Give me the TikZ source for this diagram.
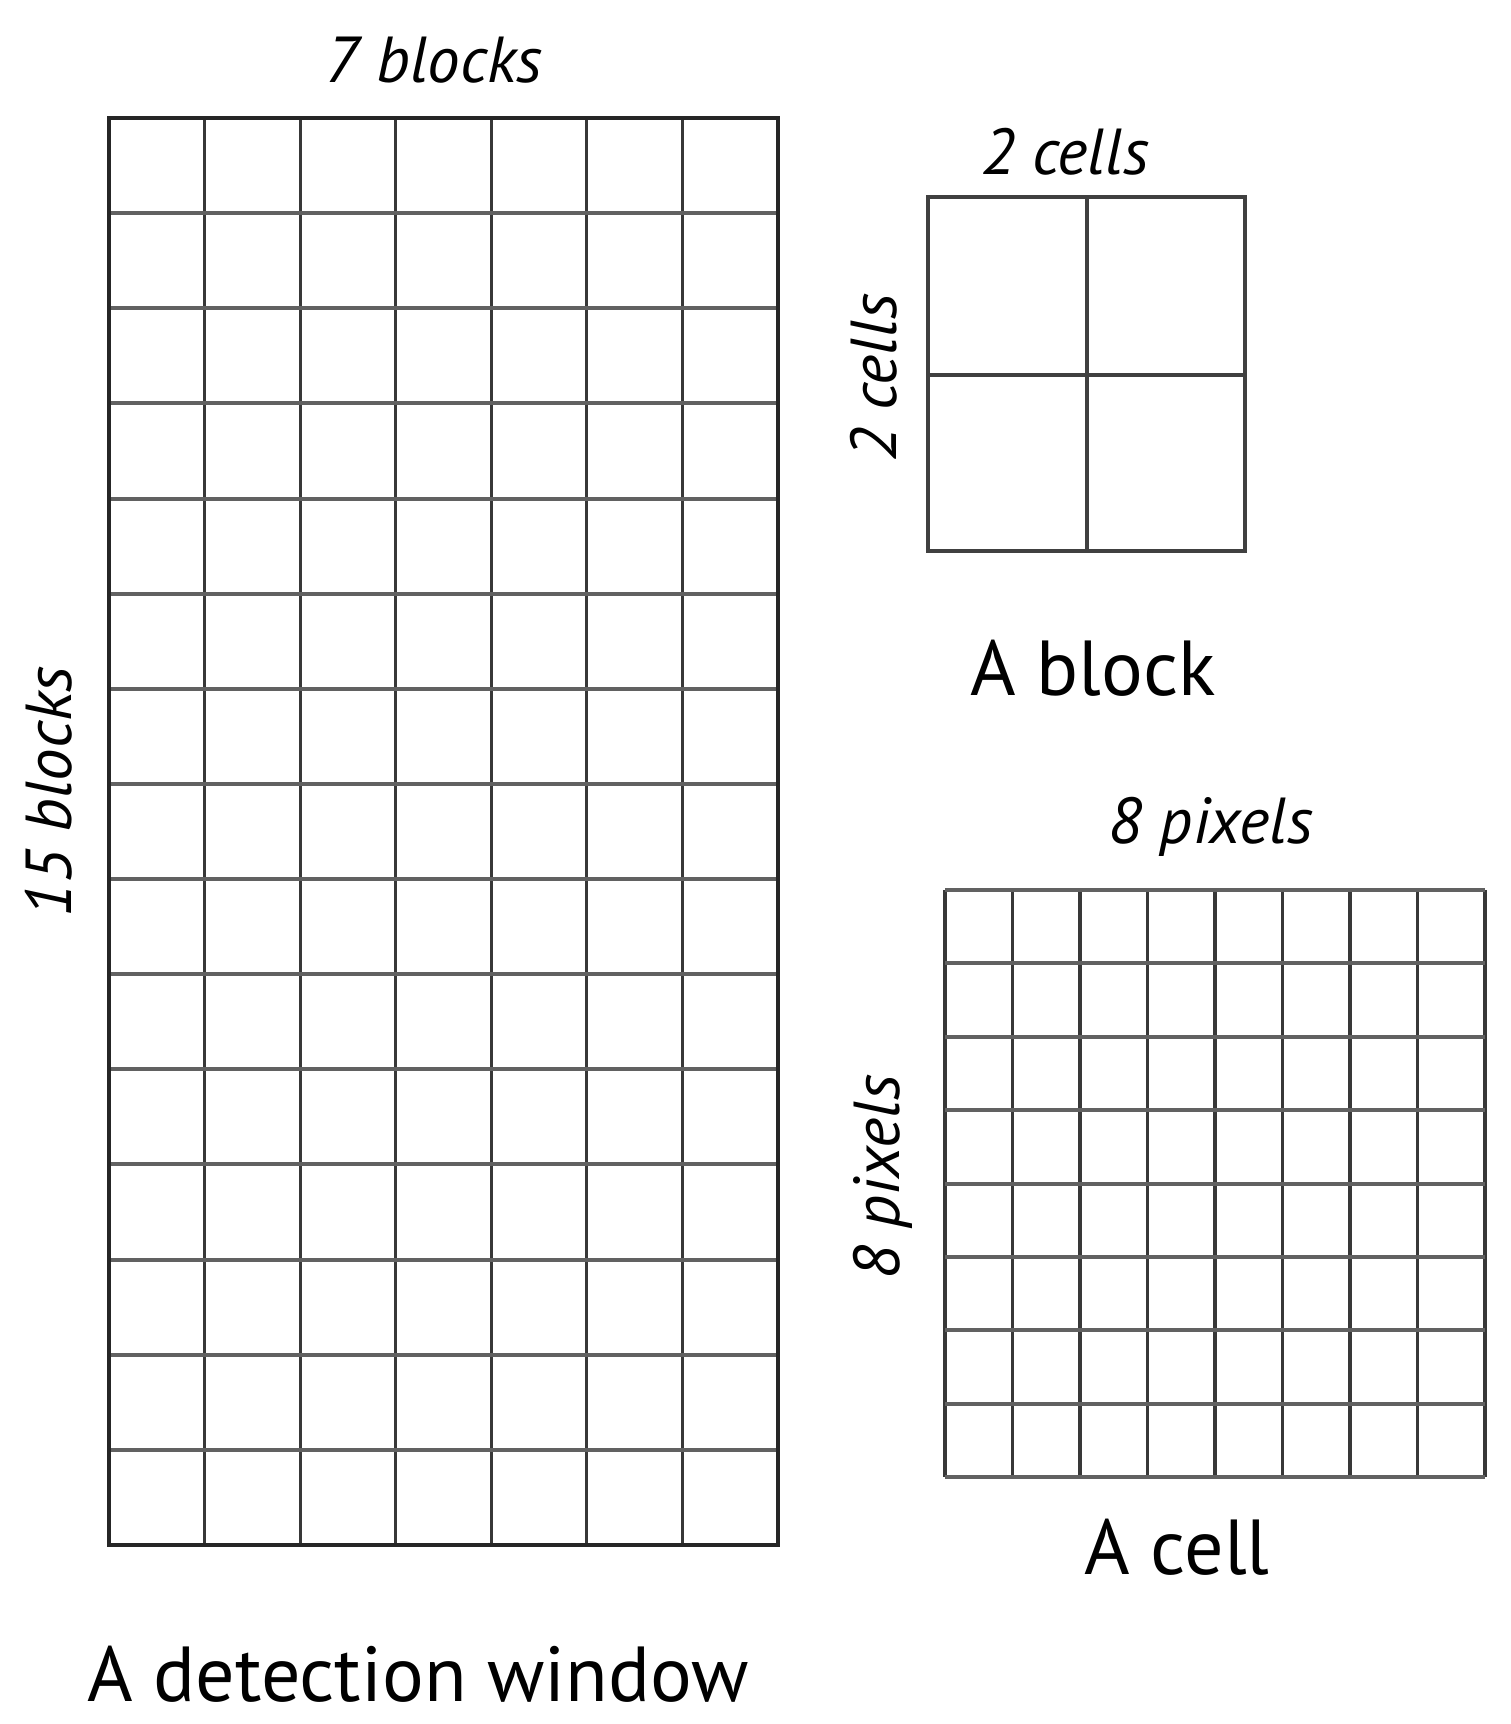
\documentclass[tikz,border=0pt]{standalone}
\usepackage{fontspec}
\setmainfont{PT Sans}
\begin{document}
\begin{tikzpicture}[x=1pt,y=-1pt,
  vline/.style={draw=black!78,line width=3.2pt},
  hline/.style={draw=black!62,line width=4pt},
  lbl/.style={inner sep=0pt,font=\fontsize{65}{70}\selectfont\itshape},
  title/.style={inner sep=0pt,font=\fontsize{78}{84}\selectfont}]
\useasboundingbox[fill=white] (0,0) rectangle (1510,1724);
% detection window 7x15
\foreach \i in {0,...,7} \draw[vline] ({109+\i*95.571},118) -- ({109+\i*95.571},1545);
\foreach \j in {0,...,15} \draw[hline] (109,{118+\j*95.133}) -- (778,{118+\j*95.133});
\draw[draw=black!85,line width=3.5pt] (109,118) rectangle (778,1545);
% block 2x2
\draw[draw=black!75,line width=3.2pt] (928,197) rectangle (1245,551);
\draw[draw=black!75,line width=3.2pt] (1087,197) -- (1087,551);
\draw[draw=black!75,line width=3.2pt] (928,375) -- (1245,375);
% cell 8x8
\foreach \i in {0,...,8} \draw[vline] ({945+\i*67.5},890) -- ({945+\i*67.5},1477);
\foreach \j in {0,...,8} \draw[hline] (945,{890+\j*73.375}) -- (1485,{890+\j*73.375});
% labels
\node[lbl] (wtop) at (434,60) {7 blocks};
\node[lbl,rotate=90] (wside) at (49,792) {15 blocks};
\node[title] (wname) at (418,1674) {A detection window};
\node[lbl] (btop) at (1065,152) {2 cells};
\node[lbl,rotate=90] (bside) at (874,378) {2 cells};
\node[title] (bname) at (1093,668) {A block};
\node[lbl] (ctop) at (1211,827) {8 pixels};
\node[lbl,rotate=90] (cside) at (883,1177) {8 pixels};
\node[title] (cname) at (1177,1547) {A cell};
\end{tikzpicture}
\end{document}
